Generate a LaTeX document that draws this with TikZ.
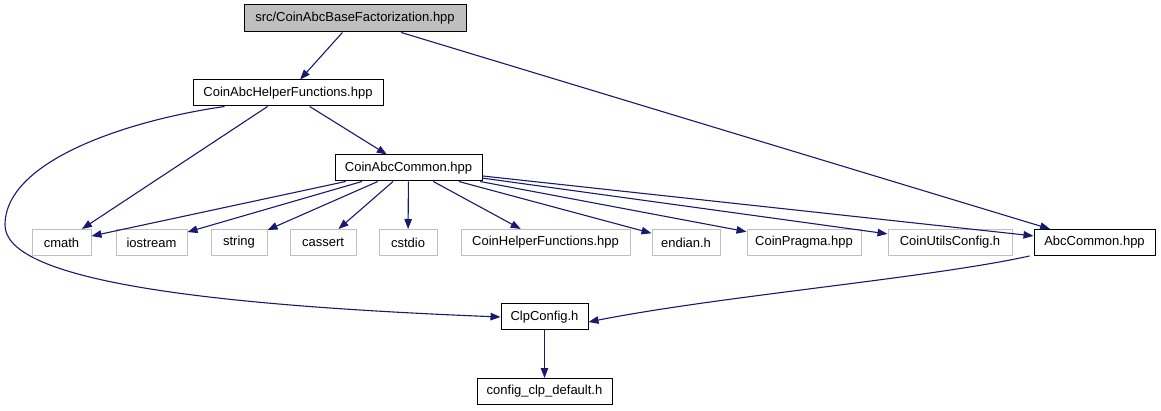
\documentclass[tikz,border=0pt]{standalone}
\usepackage{fontspec}
\setmainfont{Liberation Sans}
\usetikzlibrary{arrows.meta}
\definecolor{edgec}{HTML}{191970}
\definecolor{grayb}{HTML}{BFBFBF}
\definecolor{topfill}{HTML}{BFBFBF}
\begin{document}
\begin{tikzpicture}[x=1pt,y=-1pt,
  box/.style={draw=black, line width=1pt, minimum height=26pt, inner sep=0pt, font=\fontsize{13}{15}\selectfont, text=black},
  gbox/.style={box, draw=grayb},
  edge/.style={draw=edgec, line width=1.1pt, -{Triangle[length=10pt,width=7.5pt]}}]
\useasboundingbox (0,0) rectangle (1161,411);
% nodes
\node[box, fill=topfill, minimum width=222pt, minimum height=27pt] (top) at (355,18.5) {src/CoinAbcBaseFactorization.hpp};
\node[box, minimum width=190pt] (helper) at (288,93) {CoinAbcHelperFunctions.hpp};
\node[box, minimum width=147pt] (common) at (408.5,168) {CoinAbcCommon.hpp};
\node[gbox, minimum width=59pt] (cmath) at (61.5,242.5) {cmath};
\node[gbox, minimum width=71pt] (iostream) at (151.5,242.5) {iostream};
\node[gbox, minimum width=56pt] (string) at (239,242.5) {string};
\node[gbox, minimum width=66pt] (cassert) at (323,242.5) {cassert};
\node[gbox, minimum width=58pt] (cstdio) at (408,242.5) {cstdio};
\node[gbox, minimum width=169pt] (chf) at (545.5,242.5) {CoinHelperFunctions.hpp};
\node[gbox, minimum width=68pt] (endian) at (686,242.5) {endian.h};
\node[gbox, minimum width=114pt] (pragma) at (804,242.5) {CoinPragma.hpp};
\node[gbox, minimum width=124pt] (cuc) at (950,242.5) {CoinUtilsConfig.h};
\node[box, minimum width=121pt] (abc) at (1094.5,242.5) {AbcCommon.hpp};
\node[box, minimum width=87pt] (clp) at (544.5,317) {ClpConfig.h};
\node[box, minimum width=135pt] (cfg) at (544.5,391.5) {config\_clp\_default.h};
% edges
\draw[edge] (top) -- (helper);
\draw[edge] (top) -- (abc);
\draw[edge] (helper) -- (cmath);
\draw[edge] (helper) -- (common);
\draw[edge] ([xshift=32pt]helper.south west) .. controls (130,120) and (5,160) .. (5,225)
  .. controls (5,280) and (200,305) .. (clp.west);
\draw[edge] (common) -- (cmath);
\draw[edge] (common) -- (iostream);
\draw[edge] (common) -- (string);
\draw[edge] (common) -- (cassert);
\draw[edge] (common) -- (cstdio);
\draw[edge] (common) -- (chf);
\draw[edge] (common) -- (endian);
\draw[edge] (common) -- (pragma);
\draw[edge] (common) -- (cuc);
\draw[edge] (common) -- (abc);
\draw[edge] ([xshift=-4pt]abc.south west) .. controls (930,278) and (720,296) .. ([yshift=-5pt]clp.east);
\draw[edge] (clp) -- (cfg);
\end{tikzpicture}
\end{document}
